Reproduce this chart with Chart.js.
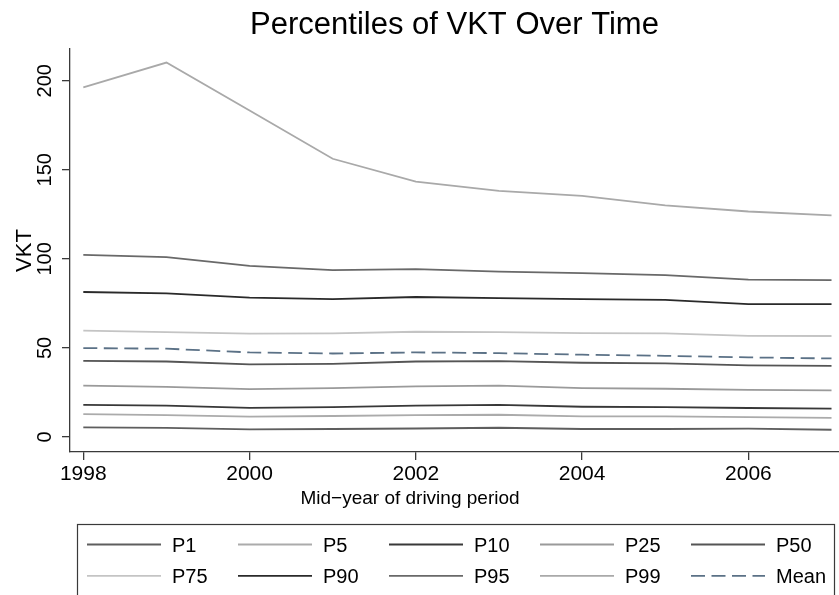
<!DOCTYPE html>
<html>
<head>
<meta charset="utf-8">
<title>Percentiles of VKT Over Time</title>
<script src="https://cdn.jsdelivr.net/npm/chart.js@4.4.1/dist/chart.umd.min.js"></script>
<style>
    html, body { margin: 0; padding: 0; background: #ffffff; }
    #wrap { width: 839px; height: 595px; }
</style>
</head>
<body>
<div id="wrap"><canvas id="vktChart" width="839" height="595"></canvas></div>
<script>
// ========================================
// DATA
// ========================================
const years = [1998, 1999, 2000, 2001, 2002, 2003, 2004, 2005, 2006, 2007];

const p1   = [5.4, 5.1, 4.3, 4.5, 4.8, 5.2, 4.5, 4.5, 4.7, 4.1];
const p5   = [12.9, 12.3, 11.4, 11.8, 12.3, 12.5, 11.6, 11.6, 11.2, 10.8];
const p10  = [18.1, 17.6, 16.4, 16.8, 17.6, 18.1, 17.0, 16.8, 16.3, 15.9];
const p25  = [28.8, 28.1, 26.9, 27.5, 28.4, 28.8, 27.5, 27.1, 26.5, 26.2];
const p50  = [42.8, 42.4, 40.8, 41.1, 42.4, 42.6, 41.7, 41.3, 40.2, 39.9];
const p75  = [59.7, 58.9, 58.0, 58.2, 59.1, 58.9, 58.3, 58.2, 56.8, 56.7];
const p90  = [81.4, 80.6, 78.3, 77.4, 78.6, 78.0, 77.4, 77.0, 74.6, 74.6];
const p95  = [102.3, 101.0, 96.1, 93.7, 94.3, 92.8, 92.0, 90.9, 88.3, 88.1];
const p99  = [196.2, 210.2, 183.3, 156.2, 143.4, 138.2, 135.4, 130.0, 126.6, 124.4];
const mean = [49.9, 49.6, 47.5, 46.9, 47.5, 47.1, 46.2, 45.6, 44.7, 44.1];

const xTicks = [1998, 2000, 2002, 2004, 2006];
const yTicks = [0, 50, 100, 150, 200];

const FONT = "'Liberation Sans', Arial, Helvetica, sans-serif";
const AXIS_COLOR = '#3a3a3a';

// series -> points
function toPoints(values) {
    return years.map((yr, i) => ({ x: yr, y: values[i] }));
}

function series(label, values, color, dash) {
    return {
        label: label,
        data: toPoints(values),
        borderColor: color,
        backgroundColor: color,
        borderWidth: 1.8,
        borderDash: dash || [],
        pointRadius: 0,
        tension: 0,
        fill: false
    };
}

/**
 * Rotated y tick labels (Stata style) + x axis title
 */
const axisTextPlugin = {
    id: 'axisText',
    afterDraw(chart) {
        const ctx = chart.ctx;
        const yScale = chart.scales.y;
        ctx.save();
        ctx.fillStyle = '#000';
        ctx.font = `20px ${FONT}`;
        ctx.textAlign = 'center';
        ctx.textBaseline = 'alphabetic';
        yScale.ticks.forEach(t => {
            const py = yScale.getPixelForValue(t.value);
            ctx.save();
            ctx.translate(50.5, py);
            ctx.rotate(-Math.PI / 2);
            ctx.fillText(String(t.value), 0, 0);
            ctx.restore();
        });

        // x axis title
        ctx.font = `19px ${FONT}`;
        ctx.textBaseline = 'middle';
        ctx.fillText('Mid\u2212year of driving period', 410, 499);
        ctx.restore();
    }
};

/**
 * Boxed legend, 5 columns x 2 rows
 */
const boxLegendPlugin = {
    id: 'boxLegend',
    afterDraw(chart) {
        const ctx = chart.ctx;
        const sets = chart.data.datasets;
        ctx.save();
        ctx.strokeStyle = AXIS_COLOR;
        ctx.lineWidth = 1.2;
        ctx.strokeRect(77.5, 524.5, 757, 100);

        ctx.font = `20px ${FONT}`;
        ctx.textAlign = 'left';
        ctx.textBaseline = 'middle';
        sets.forEach((ds, i) => {
            const col = i % 5;
            const row = Math.floor(i / 5);
            const x0 = 87 + col * 151;
            const y = 544.5 + row * 31.4;
            ctx.strokeStyle = ds.borderColor;
            ctx.lineWidth = ds.borderWidth;
            ctx.setLineDash(ds.borderDash || []);
            ctx.beginPath();
            ctx.moveTo(x0, y);
            ctx.lineTo(x0 + 74, y);
            ctx.stroke();
            ctx.setLineDash([]);
            ctx.fillStyle = '#000';
            ctx.fillText(ds.label, x0 + 85, y + 1.5);
        });
        ctx.restore();
    }
};

const ctx = document.getElementById('vktChart');

new Chart(ctx, {
    type: 'line',
    data: {
        datasets: [
            series('P1', p1, '#5e5e5e'),
            series('P5', p5, '#ababab'),
            series('P10', p10, '#383838'),
            series('P25', p25, '#9a9a9a'),
            series('P50', p50, '#555555'),
            series('P75', p75, '#c4c4c4'),
            series('P90', p90, '#2a2a2a'),
            series('P95', p95, '#696969'),
            series('P99', p99, '#a9a9a9'),
            series('Mean', mean, '#5b7186', [14, 6.5])
        ]
    },
    options: {
        responsive: false,
        animation: false,
        layout: { padding: { left: 0, right: 0, top: 0, bottom: 85 } },
        plugins: {
            legend: { display: false },
            tooltip: { enabled: false },
            title: {
                display: true,
                text: 'Percentiles of VKT Over Time',
                fullSize: false,
                color: '#000',
                font: { family: FONT, size: 31, weight: 'normal' },
                padding: { top: 6.4, bottom: 5.4 }
            }
        },
        scales: {
            x: {
                type: 'linear',
                position: 'bottom',
                min: 1997.84,
                max: 2007.09,
                afterBuildTicks: scale => { scale.ticks = xTicks.map(v => ({ value: v })); },
                afterFit: scale => { scale.height = 58; },
                ticks: {
                    callback: v => String(v),
                    color: '#000',
                    font: { family: FONT, size: 21 },
                    padding: 2,
                    maxRotation: 0,
                    autoSkip: false
                },
                grid: { drawOnChartArea: false, drawTicks: true, tickLength: 8, color: AXIS_COLOR, lineWidth: 1.3 },
                border: { display: true, color: AXIS_COLOR, width: 1.3 }
            },
            y: {
                type: 'linear',
                min: -8.4,
                max: 217.8,
                afterBuildTicks: scale => { scale.ticks = yTicks.map(v => ({ value: v })); },
                afterFit: scale => { scale.width = 70; },
                ticks: { color: 'rgba(0,0,0,0)', font: { family: FONT, size: 20 } },
                title: {
                    display: true,
                    text: 'VKT',
                    color: '#000',
                    font: { family: FONT, size: 22 },
                    padding: { top: 12, bottom: 0 }
                },
                grid: { drawOnChartArea: false, drawTicks: true, tickLength: 8, color: AXIS_COLOR, lineWidth: 1.3 },
                border: { display: true, color: AXIS_COLOR, width: 1.3 }
            }
        }
    },
    plugins: [axisTextPlugin, boxLegendPlugin]
});
</script>
</body>
</html>
